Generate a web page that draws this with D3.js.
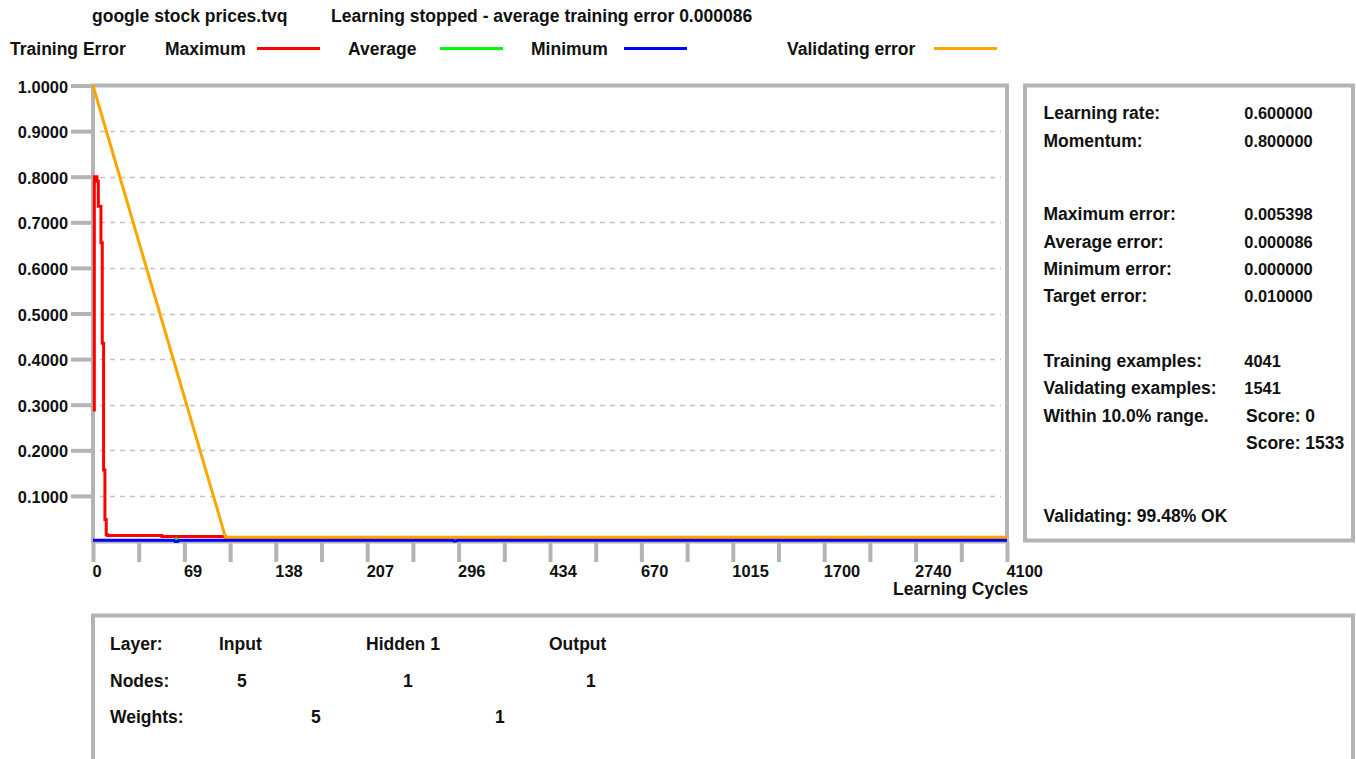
<!DOCTYPE html>
<html>
<head>
<meta charset="utf-8">
<script src="https://cdn.jsdelivr.net/npm/d3@7"></script>
<style>
  html, body { margin: 0; padding: 0; background: #ffffff; }
  svg { display: block; }
  text { font-family: "Liberation Sans", Arial, sans-serif; font-weight: bold; fill: #111; }
</style>
</head>
<body>
<svg id="chart" width="1356" height="759"></svg>
<script>
// ---------------- DATA ----------------
const fileTitle = "google stock prices.tvq";
const statusTitle = "Learning stopped - average training error 0.000086";
const legendHeading = "Training Error";
const seriesNames = ["Maximum", "Average", "Minimum", "Validating error"];

// x tick labels (learning cycles, non-uniform axis)
const xTickValues = [0, 69, 138, 207, 296, 434, 670, 1015, 1700, 2740, 4100];
const xAxisTitle = "Learning Cycles";
// y tick values
const yTickValues = [0.1, 0.2, 0.3, 0.4, 0.5, 0.6, 0.7, 0.8, 0.9, 1.0];

// Maximum training error
const maxCycles = [1, 3, 4, 6, 7, 8, 9, 10, 11, 52, 100, 4100];
const maxError  = [0.285, 0.80, 0.79, 0.735, 0.655, 0.435, 0.157, 0.048, 0.015, 0.013, 0.011, 0.008];
// Average training error
const avgCycles = [0, 61, 63, 65, 4100];
const avgError  = [0.003, 0.003, 0.007, 0.003, 0.003];
// Minimum training error
const minCycles = [0, 61, 62, 64, 65, 290, 292, 296, 4100];
const minError  = [0.0025, 0.0025, 0.0, 0.0, 0.0025, 0.0025, 0.0005, 0.0025, 0.0025];
// Validating error
const valCycles = [0, 100, 4100];
const valError  = [1.0, 0.0095, 0.0095];

// Right info panel
const infoLabels = ["Learning rate:", "Momentum:", "Maximum error:", "Average error:", "Minimum error:",
                    "Target error:", "Training examples:", "Validating examples:", "Within 10.0% range."];
const infoValues = ["0.600000", "0.800000", "0.005398", "0.000086", "0.000000",
                    "0.010000", "4041", "1541", "Score: 0"];
const extraScore = "Score: 1533";
const validatingSummary = "Validating: 99.48% OK";

// Network layers
const layerNames = ["Input", "Hidden 1", "Output"];
const layerNodes = [5, 1, 1];
const layerWeights = [5, 1];

// ---------------- LAYOUT / STYLE ----------------
const W = 1356, H = 759;
const plot = { left: 93, right: 1007, top: 85.5, bottom: 541.5 };
const frameGrey = "#b4b4b4";
const gridGrey = "#c4c4c4";
const colors = ["#ff0000", "#00ff00", "#0000ff", "#ffa500"];
const fs = 17.5, fsNum = 16.4;

const svg = d3.select("#chart");
svg.append("rect").attr("width", W).attr("height", H).attr("fill", "#fff");

// scales
const xRange = xTickValues.map((d, i) => plot.left + i * (plot.right - plot.left) / (xTickValues.length - 1));
const x = d3.scaleLinear().domain(xTickValues).range(xRange);
const y = d3.scaleLinear().domain([0, 1]).range([plot.bottom, plot.top]);

// header
svg.append("text").attr("x", 92).attr("y", 22).attr("font-size", fs).text(fileTitle);
svg.append("text").attr("x", 331).attr("y", 22).attr("font-size", fs).text(statusTitle);

// legend
svg.append("text").attr("x", 10).attr("y", 55).attr("font-size", fs).text(legendHeading);
const legendPos = [
  { tx: 165, lx1: 257, lx2: 320 },
  { tx: 348, lx1: 440, lx2: 503 },
  { tx: 531, lx1: 624, lx2: 687 },
  { tx: 787, lx1: 934, lx2: 997 }
];
seriesNames.forEach((name, i) => {
  svg.append("text").attr("x", legendPos[i].tx).attr("y", 55).attr("font-size", fs).text(name);
  svg.append("line").attr("x1", legendPos[i].lx1).attr("x2", legendPos[i].lx2)
    .attr("y1", 48.5).attr("y2", 48.5).attr("stroke", colors[i]).attr("stroke-width", 3);
});

// gridlines
svg.append("g").selectAll("line").data(yTickValues.filter(d => d < 1)).join("line")
  .attr("x1", 100).attr("x2", 1001)
  .attr("y1", d => Math.round(y(d)) + 0.5).attr("y2", d => Math.round(y(d)) + 0.5)
  .attr("stroke", gridGrey).attr("stroke-width", 1.3).attr("stroke-dasharray", "5,5");

// y axis
const yAxis = svg.append("g").attr("transform", `translate(${plot.left},0)`)
  .call(d3.axisLeft(y).tickValues(yTickValues).tickSize(22).tickPadding(3).tickFormat(d3.format(".4f")));
yAxis.select(".domain").remove();
yAxis.selectAll(".tick line").attr("stroke", frameGrey).attr("stroke-width", 4);
yAxis.selectAll(".tick text").attr("font-size", fsNum).attr("font-family", null).attr("fill", "#111")
  .attr("dy", null).attr("y", 6.5);

// x axis (major + minor ticks)
const minorTicks = xTickValues.slice(1).map((d, i) => (xTickValues[i] + d) / 2);
const allTicks = xTickValues.concat(minorTicks).sort((a, b) => a - b);
const xAxis = svg.append("g").attr("transform", `translate(0,${plot.bottom})`)
  .call(d3.axisBottom(x).tickValues(allTicks).tickSize(20.5)
    .tickFormat(d => xTickValues.includes(d) ? String(d) : ""));
xAxis.select(".domain").remove();
xAxis.selectAll(".tick line").attr("stroke", frameGrey).attr("stroke-width", 4);
xAxis.selectAll(".tick text").attr("font-size", fsNum).attr("font-family", null).attr("fill", "#111")
  .attr("text-anchor", "start").attr("dy", null).attr("y", 35.5).attr("x", -1);
svg.append("text").attr("x", 893).attr("y", 594.5).attr("font-size", fs).text(xAxisTitle);

// plot frame
svg.append("rect").attr("x", plot.left).attr("y", plot.top)
  .attr("width", plot.right - plot.left).attr("height", plot.bottom - plot.top)
  .attr("fill", "none").attr("stroke", frameGrey).attr("stroke-width", 4);

// series
function series(cs, vs) { return cs.map((c, i) => [c, vs[i]]); }
const stepLine = d3.line().x(d => x(d[0])).y(d => y(d[1])).curve(d3.curveStepBefore);
const linLine = d3.line().x(d => x(d[0])).y(d => y(d[1]));
const gLines = svg.append("g").attr("fill", "none").attr("stroke-linejoin", "miter");
gLines.append("path").attr("d", stepLine(series(maxCycles, maxError)))
  .attr("stroke", colors[0]).attr("stroke-width", 3);
gLines.append("path").attr("d", linLine(series(avgCycles, avgError)))
  .attr("stroke", colors[1]).attr("stroke-width", 2);
gLines.append("path").attr("d", linLine(series(minCycles, minError)))
  .attr("stroke", colors[2]).attr("stroke-width", 3);
gLines.append("path").attr("d", linLine(series(valCycles, valError)))
  .attr("stroke", colors[3]).attr("stroke-width", 3);

// right info panel
svg.append("rect").attr("x", 1025).attr("y", 85.5).attr("width", 328).attr("height", 455)
  .attr("fill", "none").attr("stroke", frameGrey).attr("stroke-width", 4);
const infoBase = [119.3, 146.5, 220, 247.5, 274.7, 301.7, 366.7, 394, 421.5];
const isNum = s => /^[0-9.]+$/.test(s);
infoLabels.forEach((lab, i) => {
  svg.append("text").attr("x", 1043.5).attr("y", infoBase[i]).attr("font-size", fs).text(lab);
  const v = infoValues[i];
  svg.append("text").attr("x", isNum(v) ? 1244.3 : 1246).attr("y", infoBase[i])
    .attr("font-size", isNum(v) ? fsNum : fs).text(v);
});
svg.append("text").attr("x", 1246).attr("y", 448.5).attr("font-size", fs).text(extraScore);
svg.append("text").attr("x", 1043.5).attr("y", 522).attr("font-size", fs).text(validatingSummary);

// bottom network panel
svg.append("rect").attr("x", 93).attr("y", 615.5).attr("width", 1260).attr("height", 200)
  .attr("fill", "none").attr("stroke", frameGrey).attr("stroke-width", 4);
svg.append("text").attr("x", 110).attr("y", 650).attr("font-size", fs).text("Layer:");
svg.append("text").attr("x", 110).attr("y", 687).attr("font-size", fs).text("Nodes:");
svg.append("text").attr("x", 110).attr("y", 723).attr("font-size", fs).text("Weights:");
const layerX = [219, 366, 549];
const nodeX = [237, 403, 586];
const weightX = [311, 495];
layerNames.forEach((n, i) => svg.append("text").attr("x", layerX[i]).attr("y", 650).attr("font-size", fs).text(n));
layerNodes.forEach((n, i) => svg.append("text").attr("x", nodeX[i]).attr("y", 687).attr("font-size", fs).text(n));
layerWeights.forEach((n, i) => svg.append("text").attr("x", weightX[i]).attr("y", 723).attr("font-size", fs).text(n));
</script>
</body>
</html>
